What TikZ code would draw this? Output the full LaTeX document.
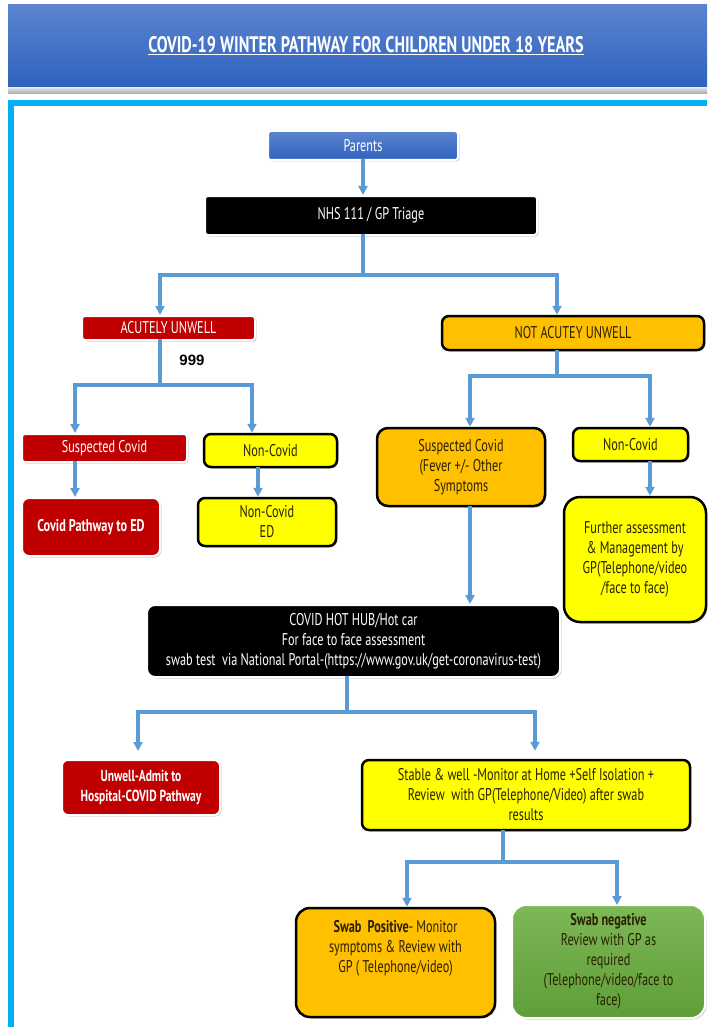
\documentclass[tikz,border=0pt]{standalone}
\usepackage{fontspec}
\setmainfont{PT Sans}[FakeStretch=0.72]
\newfontfamily\arialfont{Liberation Sans}
\usetikzlibrary{arrows.meta,shadows,calc}
\definecolor{bannertop}{HTML}{5B84CE}
\definecolor{bannerbot}{HTML}{2F62BE}
\definecolor{framecyan}{HTML}{00B0F0}
\definecolor{redbox}{HTML}{C00000}
\definecolor{orangebox}{HTML}{FFC000}
\definecolor{yellowbox}{HTML}{FFFF00}
\definecolor{greentop}{HTML}{7DB857}
\definecolor{greenbot}{HTML}{5E9E38}
\definecolor{conncol}{HTML}{5B9BD5}
\definecolor{darktext}{HTML}{2B2000}
\tikzset{
  nodetext/.style={font=\fontsize{17}{20}\selectfont, align=center, inner sep=2pt},
  whitebox/.style={nodetext, rectangle, rounded corners=3pt, draw=white, line width=2pt,
     drop shadow={opacity=0.35, shadow xshift=1.5pt, shadow yshift=-1.5pt}},
  blackbox/.style={nodetext, rectangle, rounded corners=7pt, draw=black, line width=2.5pt,
     drop shadow={opacity=0.25, shadow xshift=1.5pt, shadow yshift=-1.5pt}},
  redfill/.style={whitebox, fill=redbox, text=white},
  blackfill/.style={whitebox, fill=black, text=white},
  yellowfill/.style={blackbox, fill=yellowbox, text=darktext},
  orangefill/.style={blackbox, fill=orangebox, text=darktext},
  conn/.style={draw=conncol, line width=3.2pt, line cap=rect},
  arr/.style={conn, -{Triangle[width=9pt,length=9pt]}},
}
\begin{document}
\begin{tikzpicture}[x=1pt,y=-1pt]
\useasboundingbox (0,0) rectangle (707,1027);
\fill[white] (0,0) rectangle (707,1027);
% banner
\shade[top color=bannertop, bottom color=bannerbot] (8,5) rectangle (707,87);
\node[text=white, font=\fontsize{22.5}{24}\selectfont\bfseries] (title) at (366,46)
  {\underline{COVID-19 WINTER PATHWAY FOR CHILDREN UNDER 18 YEARS}};
\shade[top color=gray!25, bottom color=gray!70] (8,88) rectangle (707,94);
% frame
\fill[framecyan] (8,100) rectangle (707,106);
\fill[framecyan] (8,100) rectangle (14,1027);

% nodes
\node[whitebox, top color=bannertop, bottom color=bannerbot, text=white,
      minimum width=190pt, minimum height=29pt] (parents) at (363,145.5) {Parents};
\node[blackfill, minimum width=332pt, minimum height=39pt] (nhs) at (371,215.5) {NHS 111 / GP Triage};
\node[redfill, minimum width=173pt, minimum height=24pt] (acute) at (168.5,328) {ACUTELY UNWELL};
\node[orangefill, minimum width=262pt, minimum height=34pt] (notacute) at (573,333) {NOT ACUTEY UNWELL};
\node[font=\arialfont\bfseries\fontsize{15}{16}\selectfont, inner sep=0pt] (nine) at (192,360) {999};

\node[redfill, minimum width=165pt, minimum height=28pt] (sc1) at (104.5,448) {Suspected Covid};
\node[yellowfill, minimum width=133pt, minimum height=33pt] (nc1) at (270.5,450.5) {Non-Covid};
\node[redfill, rounded corners=7pt, minimum width=138pt, minimum height=58pt, font=\fontsize{17}{20}\selectfont\bfseries] (cp) at (91,527) {Covid Pathway to ED};
\node[yellowfill, minimum width=138pt, minimum height=48pt] (nced) at (267,522) {Non-Covid\\ED};

\node[orangefill, rounded corners=11pt, minimum width=168pt, minimum height=78pt] (sc2) at (461,467)
  {Suspected Covid\\(Fever +/- Other\\Symptoms};
\node[yellowfill, minimum width=115pt, minimum height=33pt] (nc2) at (630.5,444.5) {Non-Covid};
\node[yellowfill, rounded corners=16pt, minimum width=142pt, minimum height=125pt] (fa) at (635,559.5)
  {Further assessment\\\& Management by\\GP(Telephone/video\\/face to face)};

\node[blackfill, rounded corners=8pt, minimum width=413pt, minimum height=72pt] (hub) at (353.5,641)
  {COVID HOT HUB/Hot car\\For face to face assessment\\swab test\ \ via National Portal-(https://www.gov.uk/get-coronavirus-test)};

\node[redfill, rounded corners=6pt, minimum width=158pt, minimum height=55pt, font=\fontsize{16}{20}\selectfont\bfseries] (ua) at (141,787.5)
  {Unwell-Admit to\\Hospital-COVID Pathway};
\node[yellowfill, minimum width=328pt, minimum height=70pt] (sw) at (526,795)
  {Stable \& well -Monitor at Home +Self Isolation +\\Review\ \ with GP(Telephone/Video) after swab\\results};

\node[orangefill, rounded corners=14pt, minimum width=199pt, minimum height=109pt] (sp) at (395.5,962.5)
  {{\bfseries Swab\ \ Positive}- Monitor\\symptoms \& Review with\\GP ( Telephone/video)\\[12pt]};
\node[whitebox, rounded corners=14pt, top color=greentop, bottom color=greenbot, text=darktext,
      minimum width=193pt, minimum height=113pt] (sn) at (608.5,961.5)
  {{\bfseries Swab negative}\\Review with GP as\\required\\(Telephone/video/face to\\face)};

% connectors
\draw[arr] (parents.south) -- (parents.south |- nhs.north);
\coordinate (j1) at (363,275);
\draw[conn] (j1 |- nhs.south) -- (j1);
\draw[arr] (j1) -| ([xshift=-8.5pt]acute.north);
\draw[arr] (j1) -| ([xshift=-16pt]notacute.north);

\coordinate (j2) at (160,385);
\draw[conn] (j2 |- acute.south) -- (j2);
\draw[arr] (j2) -| ([xshift=-29.5pt]sc1.north);
\draw[arr] (j2) -| ([xshift=-18.5pt]nc1.north);
\draw[arr] ([xshift=-29.5pt]sc1.south) -- ([xshift=-29.5pt]sc1.south |- cp.north);
\draw[arr] ([xshift=-12.5pt]nc1.south) -- ([xshift=-12.5pt]nc1.south |- nced.north);

\coordinate (j3) at (557,376);
\draw[conn] (j3 |- notacute.south) -- (j3);
\draw[arr] (j3) -| ([xshift=9pt]sc2.north);
\draw[arr] (j3) -| ([xshift=19.5pt]nc2.north);
\draw[arr] ([xshift=19.5pt]nc2.south) -- ([xshift=19.5pt]nc2.south |- fa.north);
\draw[arr] ([xshift=9pt]sc2.south) -- ([xshift=9pt]sc2.south |- hub.north);

\coordinate (j4) at (347,712);
\draw[conn] (j4 |- hub.south) -- (j4);
\draw[arr] (j4) -| ([xshift=-3pt,yshift=8pt]ua.north);
\draw[arr] (j4) -| ([xshift=9pt,yshift=8pt]sw.north);

\coordinate (j5) at (503,862);
\draw[conn] (j5 |- sw.south) -- (j5);
\draw[arr] (j5) -| ([xshift=11.5pt]sp.north);
\draw[arr] (j5) -| ([xshift=8.5pt,yshift=-1pt]sn.north);
\end{tikzpicture}
\end{document}
